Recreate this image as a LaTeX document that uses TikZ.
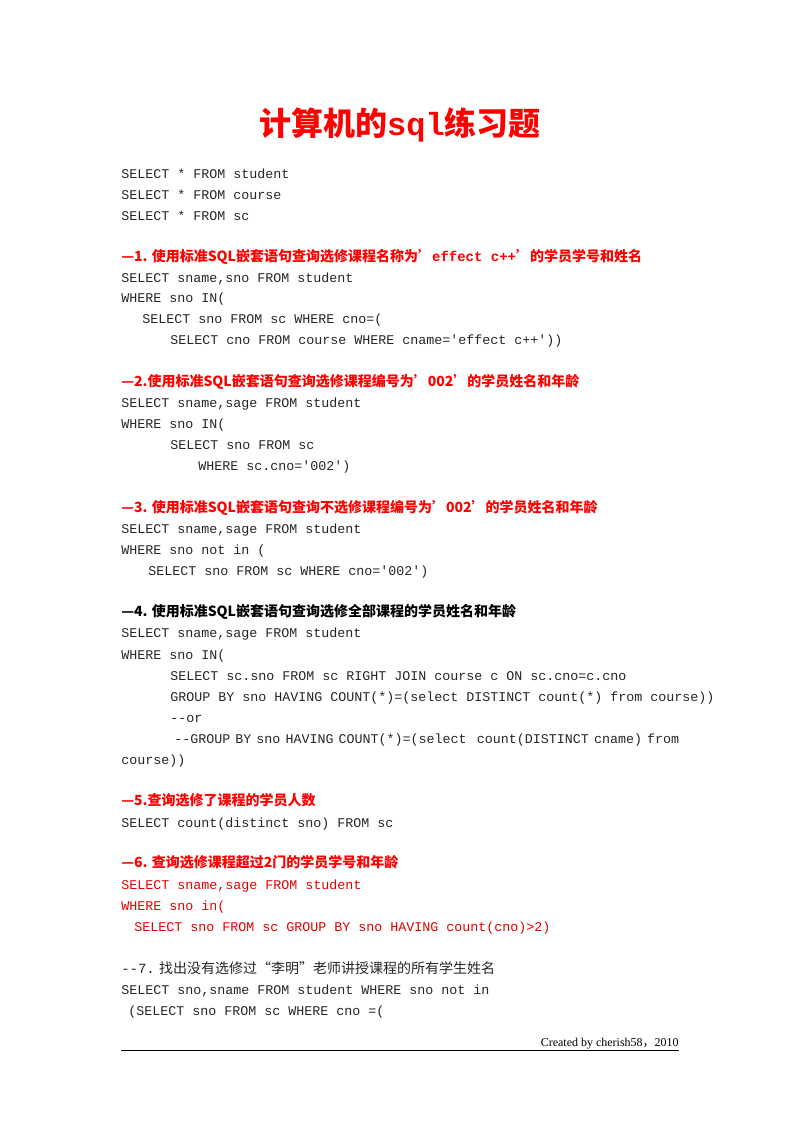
\documentclass[tikz,border=0pt]{standalone}
\usepackage{fontspec}
\setmainfont{Liberation Serif}
\setmonofont{Liberation Mono}
\newfontfamily\cjk{Noto Sans CJK SC}
\begin{document}
\begin{tikzpicture}[x=0.75pt,y=-0.75pt,
  code/.style={anchor=base west,inner sep=0pt,font=\ttfamily\fontsize{10pt}{12pt}\selectfont,text=black!85},
  rcode/.style={code,text=red!90!black},
  head/.style={anchor=base west,inner sep=0pt,font=\cjk\bfseries\fontsize{10.5pt}{12pt}\selectfont,text=red},
  bhead/.style={head,text=black}]
\useasboundingbox[fill=white] (0,0) rectangle (800,1132);
\node[anchor=base,inner sep=0pt,text=red,font=\cjk\bfseries\fontsize{24pt}{28pt}\selectfont] (title) at (400,135) {计算机的{\ttfamily sql}练习题};
\node[code] (a1) at (121,178) {SELECT * FROM student};
\node[code] (a2) at (121,199) {SELECT * FROM course};
\node[code] (a3) at (121,220) {SELECT * FROM sc};
\node[head] (h1) at (121,261) {—1. 使用标准SQL嵌套语句查询选修课程名称为’{\ttfamily effect c++}’的学员学号和姓名};
\node[code] (b1) at (121,282) {SELECT sname,sno FROM student};
\node[code] (b2) at (121,302) {WHERE sno IN(};
\node[code] (b3) at (142,323) {SELECT sno FROM sc WHERE cno=(};
\node[code] (b4) at (170,344) {SELECT cno FROM course WHERE cname='effect c++'))};
\node[head] (h2) at (121,386) {—2.使用标准SQL嵌套语句查询选修课程编号为’002’的学员姓名和年龄};
\node[code] (c1) at (121,407) {SELECT sname,sage FROM student};
\node[code] (c2) at (121,428) {WHERE sno IN(};
\node[code] (c3) at (170,449) {SELECT sno FROM sc};
\node[code] (c4) at (198,470) {WHERE sc.cno='002')};
\node[head] (h3) at (121,512) {—3. 使用标准SQL嵌套语句查询不选修课程编号为’002’的学员姓名和年龄};
\node[code] (d1) at (121,533) {SELECT sname,sage FROM student};
\node[code] (d2) at (121,554) {WHERE sno not in (};
\node[code] (d3) at (148,575) {SELECT sno FROM sc WHERE cno='002')};
\node[bhead] (h4) at (121,616) {—4. 使用标准SQL嵌套语句查询选修全部课程的学员姓名和年龄};
\node[code] (e1) at (121,637) {SELECT sname,sage FROM student};
\node[code] (e2) at (121,659) {WHERE sno IN(};
\node[code] (e3) at (170,680) {SELECT sc.sno FROM sc RIGHT JOIN course c ON sc.cno=c.cno};
\node[code] (e4) at (170,701) {GROUP BY sno HAVING COUNT(*)=(select DISTINCT count(*) from course))};
\node[code] (e5) at (170,722) {--or};
\node[code] (e6) at (174,743) {\makebox[378.75pt][l]{--GROUP\hfill BY\hfill sno\hfill HAVING\hfill COUNT(*)=(select\hfill\hfill count(DISTINCT\hfill cname)\hfill from}};
\node[code] (e7) at (121,764) {course))};
\node[head] (h5) at (121,805) {—5.查询选修了课程的学员人数};
\node[code] (f1) at (121,827) {SELECT count(distinct sno) FROM sc};
\node[head] (h6) at (121,867) {—6. 查询选修课程超过2门的学员学号和年龄};
\node[rcode] (g1) at (121,889) {SELECT sname,sage FROM student};
\node[rcode] (g2) at (121,910) {WHERE sno in(};
\node[rcode] (g3) at (134,931) {SELECT sno FROM sc GROUP BY sno HAVING count(cno)>2)};
\node[code,font=\cjk\fontsize{10.5pt}{12pt}\selectfont] (h7) at (121,973) {{\ttfamily --7.} 找出没有选修过“李明”老师讲授课程的所有学生姓名};
\node[code] (i1) at (121,994) {SELECT sno,sname FROM student WHERE sno not in};
\node[code] (i2) at (128,1015) {(SELECT sno FROM sc WHERE cno =(};
\node[anchor=base east,inner sep=0pt,font=\fontsize{9pt}{10pt}\selectfont] (foot) at (679,1046) {Created by cherish58{\cjk ，}2010};
\coordinate (l1) at (121,1050); \coordinate (l2) at (679,1050);
\draw[line width=0.7pt] (l1) -- (l2);
\end{tikzpicture}
\end{document}
